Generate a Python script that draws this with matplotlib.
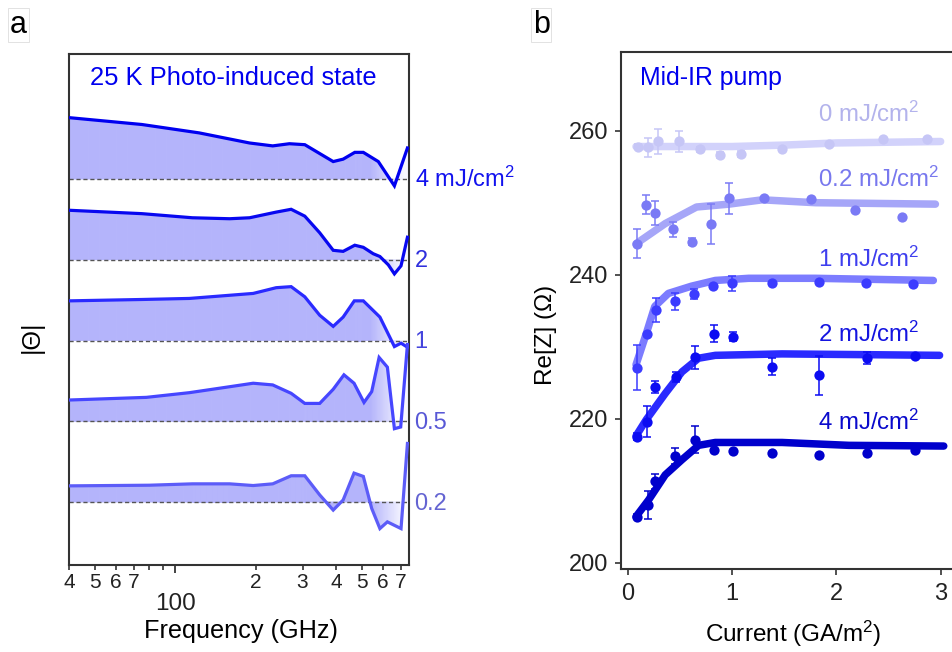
import numpy as np
import matplotlib
matplotlib.use("Agg")
import matplotlib.pyplot as plt
from matplotlib.collections import PolyCollection
from matplotlib.colors import to_rgb
from matplotlib.ticker import FixedLocator, FixedFormatter

plt.rcParams['font.family'] = ['Liberation Sans', 'DejaVu Sans']
plt.rcParams['mathtext.fontset'] = 'custom'
plt.rcParams['mathtext.rm'] = 'Liberation Sans'
plt.rcParams['mathtext.it'] = 'Liberation Sans:italic'
plt.rcParams['mathtext.bf'] = 'Liberation Sans:bold'

# ---------------- panel a: |Theta| spectra (offset per fluence) ----------------
freq_4 = [40, 75, 123, 190, 232, 268, 306, 391, 426, 471, 507, 577, 663, 742]
theta_4 = [0.76, 0.675, 0.571, 0.446, 0.41, 0.437, 0.425, 0.216, 0.246, 0.33, 0.33, 0.216, -0.085, 0.384]

freq_2 = [40, 75, 116, 160, 190, 239, 272, 306, 348, 391, 426, 471, 507, 552, 585, 629, 663, 702, 742]
theta_2 = [0.613, 0.571, 0.52, 0.508, 0.52, 0.59, 0.625, 0.54, 0.334, 0.117, 0.104, 0.18, 0.154,
           0.075, 0.04, -0.063, -0.175, -0.075, 0.279]

freq_1 = [40, 75, 113, 196, 239, 272, 306, 348, 391, 426, 469, 507, 585, 663, 702, 742]
theta_1 = [0.491, 0.508, 0.521, 0.583, 0.654, 0.667, 0.541, 0.313, 0.175, 0.29, 0.491, 0.491,
           0.29, -0.075, -0.033, -0.083]

freq_05 = [40, 78, 113, 155, 196, 232, 272, 306, 348, 391, 429, 468, 510, 545, 581, 624, 663, 700, 742]
theta_05 = [0.263, 0.296, 0.354, 0.421, 0.471, 0.45, 0.346, 0.221, 0.221, 0.396, 0.575, 0.471,
            0.233, 0.367, 0.79, 0.67, -0.092, -0.071, 0.95]

freq_02 = [40, 80, 116, 160, 196, 232, 272, 306, 348, 391, 426, 468, 507, 545, 585, 624, 702, 742]
theta_02 = [0.2, 0.208, 0.225, 0.225, 0.204, 0.225, 0.325, 0.325, 0.088, -0.1, 0.025, 0.358,
            0.317, -0.079, -0.329, -0.246, -0.329, 0.725]

spectra_labels = ['4 mJ/cm$^{2}$', '2', '1', '0.5', '0.2']
spectra_offsets = [4, 3, 2, 1, 0]
spectra_line_colors = ['#0000f0', '#0808f0', '#2a2aff', '#4646ff', '#5c5cf8']
spectra_text_colors = ['#1212ee', '#2f2fdd', '#4545dd', '#5858d6', '#6464d2']

freq_minor_ticks = [40, 50, 60, 70, 80, 90, 200, 300, 400, 500, 600, 700]
freq_minor_labels = ['4', '5', '6', '7', '', '', '2', '3', '4', '5', '6', '7']
freq_major_ticks = [100]
freq_major_labels = ['100']

# ---------------- panel b: Re[Z] vs current ----------------
cur_0 = [0.096, 0.198, 0.294, 0.49, 0.693, 0.885, 1.086, 1.476, 1.933, 2.445, 2.867]
rz_0 = [257.8, 257.7, 258.5, 258.5, 257.4, 256.6, 256.8, 257.4, 258.2, 258.8, 258.8]
err_0 = [0.3, 1.3, 1.7, 1.4, 0.4, 0.4, 0.4, 0, 0, 0, 0]
fitx_0 = [0.08, 1.0, 1.5, 2.0, 3.0]
fity_0 = [257.8, 257.8, 258.0, 258.3, 258.5]

cur_02 = [0.086, 0.173, 0.262, 0.437, 0.619, 0.799, 0.971, 1.31, 1.755, 2.18, 2.627]
rz_02 = [244.3, 249.7, 248.6, 246.3, 244.6, 247.0, 250.6, 250.6, 250.5, 249.0, 248.0]
err_02 = [2.0, 1.3, 1.7, 1.0, 0.5, 2.75, 2.2, 0, 0, 0, 0]
fitx_02 = [0.08, 0.36, 0.66, 0.97, 1.29, 1.8, 2.95]
fity_02 = [244.3, 247.1, 249.4, 249.8, 250.4, 250.0, 249.8]

cur_1 = [0.086, 0.182, 0.268, 0.453, 0.639, 0.821, 1.003, 1.381, 1.834, 2.282, 2.738]
rz_1 = [227.1, 231.8, 235.1, 236.3, 237.3, 238.4, 238.8, 238.9, 239.0, 238.9, 238.7]
err_1 = [3.1, 0, 1.7, 1.2, 0.7, 0, 1.0, 0, 0, 0, 0]
fitx_1 = [0.08, 0.18, 0.26, 0.39, 0.61, 0.84, 1.16, 1.8, 2.93]
fity_1 = [227.5, 231.9, 235.6, 237.4, 238.4, 239.2, 239.5, 239.5, 239.2]

cur_2 = [0.086, 0.182, 0.262, 0.46, 0.645, 0.827, 1.012, 1.381, 1.834, 2.291, 2.755]
rz_2 = [217.5, 219.6, 224.4, 225.8, 228.5, 231.8, 231.4, 227.2, 226.0, 228.4, 228.7]
err_2 = [0.5, 2.2, 0.8, 0.7, 1.6, 1.2, 0.6, 1.2, 2.7, 0.8, 0]
fitx_2 = [0.08, 0.18, 0.36, 0.52, 0.68, 0.84, 1.48, 2.99]
fity_2 = [217.6, 219.9, 223.5, 226.5, 228.4, 228.8, 229.0, 228.8]

cur_4 = [0.086, 0.192, 0.262, 0.453, 0.645, 0.827, 1.012, 1.381, 1.834, 2.291, 2.755]
rz_4 = [206.4, 208.0, 211.3, 214.8, 217.1, 215.7, 215.5, 215.3, 214.9, 215.2, 215.7]
err_4 = [0.3, 1.9, 1.0, 1.1, 1.85, 0, 0, 0, 0, 0, 0]
fitx_4 = [0.08, 0.2, 0.36, 0.52, 0.68, 0.84, 1.48, 2.12, 3.03]
fity_4 = [206.4, 208.7, 212.2, 214.3, 216.3, 216.7, 216.7, 216.3, 216.2]

fluence_labels = ['0 mJ/cm$^{2}$', '0.2 mJ/cm$^{2}$', '1 mJ/cm$^{2}$', '2 mJ/cm$^{2}$', '4 mJ/cm$^{2}$']
fluence_label_y = [261.25, 252.2, 241.1, 230.7, 218.4]
point_colors = ['#c6c6f6', '#7a7af5', '#3c3cff', '#0c0cf2', '#0000cc']
fit_colors = ['#d2d2fb', '#a6a6f8', '#7c7cff', '#2a2aff', '#0000cc']
label_colors = ['#b3b3ec', '#7878ee', '#3e3eee', '#1414e0', '#0a0acc']

W, H = 952, 652
fig = plt.figure(figsize=(W / 100, H / 100), dpi=100)


def fx(x):
    return x / W


def fy(y):
    return 1 - y / H


FILL = np.array(to_rgb('#b4b4fb'))
WHITE = np.ones(3)
FADE_START, FADE_END = 540.0, 720.0


def shaded_area(ax, f, y, base):
    """Fill between a trace and its baseline, fading out at high frequency."""
    lf = np.log10(f)
    grid = np.union1d(np.linspace(lf[0], lf[-1], 400), lf)
    yy = np.interp(grid, lf, y) + base
    fg = 10 ** grid
    mid = 0.5 * (grid[:-1] + grid[1:])
    t = np.clip((mid - np.log10(FADE_START)) / (np.log10(FADE_END) - np.log10(FADE_START)), 0, 1)
    cols = [tuple(FILL * (1 - 0.9 * ti) + WHITE * 0.9 * ti) for ti in t]
    verts = [[(fg[i], base), (fg[i], yy[i]), (fg[i + 1], yy[i + 1]), (fg[i + 1], base)]
             for i in range(len(fg) - 1)]
    pc = PolyCollection(verts, facecolors=cols, edgecolors=cols, linewidths=0.5, zorder=1)
    ax.add_collection(pc)


# ---------------- panel a ----------------
axa = fig.add_axes([fx(69), fy(565), fx(409 - 69), fy(54) - fy(565)])
axa.set_xscale('log')
spectra = [(freq_4, theta_4), (freq_2, theta_2), (freq_1, theta_1), (freq_05, theta_05), (freq_02, theta_02)]
for (f, th), base, lc, tc, lab in zip(spectra, spectra_offsets, spectra_line_colors,
                                      spectra_text_colors, spectra_labels):
    shaded_area(axa, f, th, base)
    axa.axhline(base, color='#555555', lw=1.0, ls=(0, (3, 2)), zorder=2)
    axa.plot(f, np.array(th) + base, color=lc, lw=2.3, zorder=3, solid_joinstyle='miter')
    axa.annotate(lab, xy=(1, base), xycoords=axa.get_yaxis_transform(), xytext=(4, -5.5),
                 textcoords='offset points', ha='left', va='baseline', fontsize=17,
                 color=tc, annotation_clip=False)

axa.set_xlim(40, 752)
axa.set_ylim(-0.78, 5.548)
axa.set_yticks([])
axa.xaxis.set_major_locator(FixedLocator(freq_major_ticks))
axa.xaxis.set_major_formatter(FixedFormatter(freq_major_labels))
axa.xaxis.set_minor_locator(FixedLocator(freq_minor_ticks))
axa.xaxis.set_minor_formatter(FixedFormatter(freq_minor_labels))
axa.tick_params(axis='x', which='major', direction='out', length=6, width=1.2,
                labelsize=17.5, pad=14, colors='#222222')
axa.tick_params(axis='x', which='minor', direction='out', length=3.8, width=1.1,
                labelsize=15, pad=2, colors='#222222')
for sp in axa.spines.values():
    sp.set_color('#333333')
    sp.set_linewidth(1.5)

fig.text(fx(90.5), fy(85), '25 K Photo-induced state', color='#0000ee', fontsize=18.4,
         ha='left', va='baseline')
fig.text(fx(241), fy(638), 'Frequency (GHz)', fontsize=18.2, ha='center', va='baseline')
fig.text(fx(32), fy(337), '|Θ|', fontsize=18, rotation=90, ha='center', va='center')
fig.text(fx(10), fy(33), 'a', fontsize=22, ha='left', va='baseline',
         bbox=dict(boxstyle='square,pad=0.05', fc='white', ec='#dddddd', lw=0.6))

# ---------------- panel b ----------------
axb = fig.add_axes([fx(621), fy(569), 1 - fx(621), fy(52) - fy(569)])
series = [
    (cur_0, rz_0, err_0, fitx_0, fity_0),
    (cur_02, rz_02, err_02, fitx_02, fity_02),
    (cur_1, rz_1, err_1, fitx_1, fity_1),
    (cur_2, rz_2, err_2, fitx_2, fity_2),
    (cur_4, rz_4, err_4, fitx_4, fity_4),
]
for (cx, ry, er, fxs, fys), pc_, fc_, lc_, lab, ly in zip(series, point_colors, fit_colors,
                                                          label_colors, fluence_labels, fluence_label_y):
    axb.plot(fxs, fys, color=fc_, lw=5.4, solid_capstyle='round', solid_joinstyle='round', zorder=2)
    cx = np.array(cx)
    ry = np.array(ry)
    er = np.array(er)
    m = er > 0
    axb.errorbar(cx[m], ry[m], yerr=er[m], fmt='none', ecolor=pc_, elinewidth=1.1,
                 capsize=3, capthick=1.1, zorder=3)
    axb.plot(cx, ry, 'o', color=pc_, ms=7.4, mec='none', zorder=4)
    axb.text(1.825, ly, lab, color=lc_, fontsize=17.3, ha='left', va='baseline', zorder=5)

axb.set_xlim(-0.064, 3.109)
axb.set_ylim(199.125, 270.93)
axb.set_xticks([0, 1, 2, 3])
axb.set_yticks([200, 220, 240, 260])
axb.tick_params(axis='both', direction='out', length=4.3, width=1.1, labelsize=17,
                colors='#222222')
axb.tick_params(axis='y', pad=5)
axb.tick_params(axis='x', pad=6)
axb.spines['right'].set_visible(False)
for sp in ['left', 'bottom', 'top']:
    axb.spines[sp].set_color('#333333')
    axb.spines[sp].set_linewidth(1.5)

fig.text(fx(640.5), fy(85), 'Mid-IR pump', color='#0000ee', fontsize=17.9, ha='left', va='baseline')
fig.text(fx(793), fy(641.5), 'Current (GA/m$^{2}$)', fontsize=17.5, ha='center', va='baseline')
fig.text(fx(546), fy(335), 'Re[Z] (Ω)', fontsize=17.5, rotation=90, ha='center', va='center')
fig.text(fx(533), fy(33), 'b', fontsize=22, ha='left', va='baseline',
         bbox=dict(boxstyle='square,pad=0.05', fc='white', ec='#dddddd', lw=0.6))

fig.savefig('out.png', dpi=100)
